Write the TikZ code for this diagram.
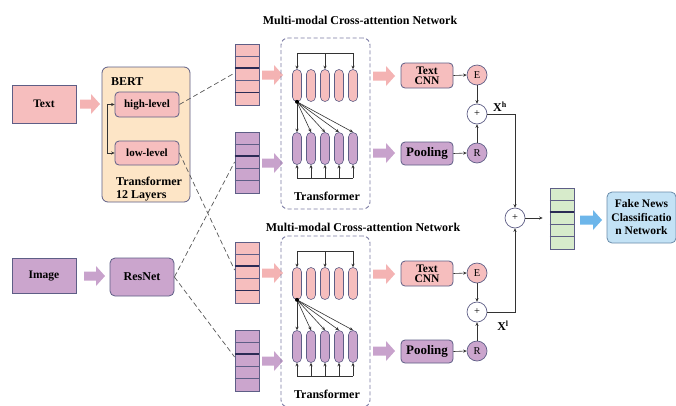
\documentclass[tikz,border=0pt]{standalone}
\usepackage{fontspec}
\setmainfont{Liberation Serif}
\usetikzlibrary{arrows.meta,calc}
\definecolor{pinkf}{HTML}{F6BEBE}
\definecolor{purpf}{HTML}{CBA5CD}
\definecolor{bord}{HTML}{5E5E86}
\definecolor{peach}{HTML}{FDE5C6}
\definecolor{greenf}{HTML}{D7EBCB}
\definecolor{bluef}{HTML}{C3E2F5}
\definecolor{blueb}{HTML}{6A8CAA}
\definecolor{bluea}{HTML}{6DB6EA}
\definecolor{pinka}{HTML}{F4B3B3}
\definecolor{purpa}{HTML}{C8A2CC}
\definecolor{dashc}{HTML}{7C7CA4}
\definecolor{darkl}{HTML}{2B2B55}
\newcommand\blockarrow[4]{\fill[#4] (#1,#3-4.5) -- (#2-9,#3-4.5) -- (#2-9,#3-10) -- (#2,#3) -- (#2-9,#3+10) -- (#2-9,#3+4.5) -- (#1,#3+4.5) -- cycle;}
\newcommand\cells[2]{%
  \foreach \k in {1,...,4}{\draw[bord,line width=0.6pt] ($(#1.north west)+(0,\k*12.2)$) -- ($(#1.north east)+(0,\k*12.2)$);}
  \foreach \k in {#2}{\draw[darkl,line width=1.3pt] ($(#1.north west)+(0,\k*12.2)$) -- ($(#1.north east)+(0,\k*12.2)$);}}
\begin{document}
\begin{tikzpicture}[x=1pt,y=-1pt,
  font=\bfseries\fontsize{12}{13}\selectfont,
  box/.style={draw=bord,line width=0.8pt,align=center,inner sep=1pt},
  pbox/.style={box,fill=pinkf},
  ubox/.style={box,fill=purpf},
  stack/.style={draw=bord,line width=0.8pt,minimum width=24pt,minimum height=61pt,inner sep=0pt},
  capsule/.style={draw=bord,line width=0.6pt,rounded corners=4.5pt,minimum width=9pt,minimum height=32pt,inner sep=0pt},
  conn/.style={draw=black!80,line width=0.6pt},
  arr/.style={conn,-{Stealth[length=3.5pt,width=3.2pt]}},
  dashl/.style={draw=black!65,dash pattern=on 5pt off 3pt,line width=0.7pt},
  circ/.style={circle,draw=bord,line width=0.7pt,minimum size=20pt,inner sep=0pt,font=\fontsize{10.5}{10}\selectfont\mdseries},
  lab/.style={inner sep=0pt}]
\useasboundingbox (0,0) rectangle (676,405);
\fill[white] (0,0) rectangle (676,405);

% inputs
\node[pbox,minimum width=64pt,minimum height=38pt,font=\bfseries\fontsize{11.5}{12}\selectfont] (text) at (44,104) {Text};
\node[ubox,minimum width=64pt,minimum height=35pt,font=\bfseries\fontsize{11.5}{12}\selectfont] (image) at (44,276) {Image};
\blockarrow{80}{100}{104}{pinka}
\blockarrow{84}{105}{276}{purpa}

% BERT
\node[draw=bord,line width=0.8pt,fill=peach,rounded corners=6pt,minimum width=88pt,minimum height=135pt] (bert) at (146,134.5) {};
\node[lab,anchor=west] (bertl) at (111,82) {BERT};
\node[pbox,rounded corners=4pt,minimum width=64pt,minimum height=25pt,font=\bfseries\fontsize{11}{12}\selectfont] (high) at (147,104.5) {high-level};
\node[pbox,rounded corners=4pt,minimum width=64pt,minimum height=24pt,font=\bfseries\fontsize{11}{12}\selectfont] (low) at (147,153) {low-level};
\node[lab,anchor=west,align=left,font=\bfseries\fontsize{12}{13}\selectfont] (tl) at (116,189.5) {Transformer\\12 Layers};
\draw[arr] ([xshift=-7pt]high.west) |- (low.west);
\draw[arr] ([xshift=-7pt]low.west) |- (high.west);

% ResNet
\node[ubox,rounded corners=5pt,minimum width=64pt,minimum height=38pt] (resnet) at (142,277) {ResNet};

% titles
\node[lab] (tit) at (360,20) {Multi-modal Cross-attention Network};
\node[lab] (tib) at (363,227) {Multi-modal Cross-attention Network};

% two modules
\foreach \m/\oy in {t/0,b/198}{
  \node[stack,fill=pinkf] (ps\m) at (247,74.5+\oy) {};
  \cells{ps\m}{2,4}
  \node[stack,fill=purpf] (us\m) at (247,162.5+\oy) {};
  \cells{us\m}{2}
  \blockarrow{262}{283}{75+\oy}{pinka}
  \blockarrow{262}{283}{163+\oy}{purpa}
  \node[draw=dashc,line width=0.9pt,dash pattern=on 4pt off 2.5pt,rounded corners=7pt,minimum width=89pt,minimum height=171pt] (tf\m) at (325.5,123.5+\oy) {};
  \node[lab] (tfl\m) at (327,196+\oy) {Transformer};
  \foreach \i in {1,...,5}{
    \node[capsule,fill=pinkf] (c\m\i) at (297+14*\i-14,85.5+\oy) {};
    \node[capsule,fill=purpf] (d\m\i) at (297+14*\i-14,148.5+\oy) {};
  }
  \draw[conn] (c\m1.north |- 0,53+\oy) -- (c\m5.north |- 0,53+\oy);
  \foreach \i in {1,3,5}{\draw[arr] (c\m\i.north |- 0,53+\oy) -- (c\m\i.north);}
  \draw[conn] (d\m1.south |- 0,178+\oy) -- (d\m5.south |- 0,178+\oy);
  \foreach \i in {1,...,5}{
    \draw[arr] (d\m\i.south |- 0,178+\oy) -- (d\m\i.south);
    \draw[arr] (c\m1.south) -- (d\m\i.north);
  }
  \fill[black] (c\m1.south) circle (2pt);
  % right part
  \blockarrow{373}{395}{76+\oy}{pinka}
  \blockarrow{373}{395}{153+\oy}{purpa}
  \node[pbox,rounded corners=4pt,minimum width=52pt,minimum height=25pt,font=\bfseries\fontsize{11.5}{10}\selectfont] (cnn\m) at (427,75.5+\oy) {Text\\CNN};
  \node[ubox,rounded corners=4pt,minimum width=52pt,minimum height=23pt,font=\bfseries\fontsize{13}{13}\selectfont] (pool\m) at (427,153.5+\oy) {Pooling};
  \node[circ,fill=pinkf] (e\m) at (477,75+\oy) {E};
  \node[circ,fill=white] (p\m) at (477,114+\oy) {+};
  \node[circ,fill=purpf] (r\m) at (477,153+\oy) {R};
  \draw[arr] (cnn\m.east) -- (e\m.west);
  \draw[arr] (pool\m.east) -- (r\m.west);
  \draw[arr] (e\m.south) -- (p\m.north);
  \draw[arr] (r\m.north) -- (p\m.south);
}

% dashed links
\draw[dashl] (high.east) -- (pst.west |- 0,73);
\draw[dashl] (low.east) -- (psb.west |- 0,270);
\draw[dashl] (resnet.east) -- (ust.west |- 0,162);
\draw[dashl] (resnet.east) -- (usb.west |- 0,357);

% fusion
\node[circ,fill=white] (fp) at (515,218) {+};
\draw[arr] (pt.east) -| (fp.north);
\draw[arr] (pb.east) -| (fp.south);
\node[lab] (xh) at (500,107) {X\textsuperscript{h}};
\node[lab] (xl) at (503,326) {X\textsuperscript{l}};
\node[stack,fill=greenf] (gs) at (562,218.5) {};
\cells{gs}{2}
\draw[arr] (fp.east) -- ([xshift=-7pt]gs.west |- fp.east);
\blockarrow{580}{602}{220}{bluea}
\node[box,draw=blueb,fill=bluef,rounded corners=5pt,minimum width=69pt,minimum height=51pt,inner sep=0pt,font=\bfseries\fontsize{11.5}{13.5}\selectfont] (fn) at (641.5,217.5) {Fake News\\Classificatio\\n Network};
\end{tikzpicture}
\end{document}
